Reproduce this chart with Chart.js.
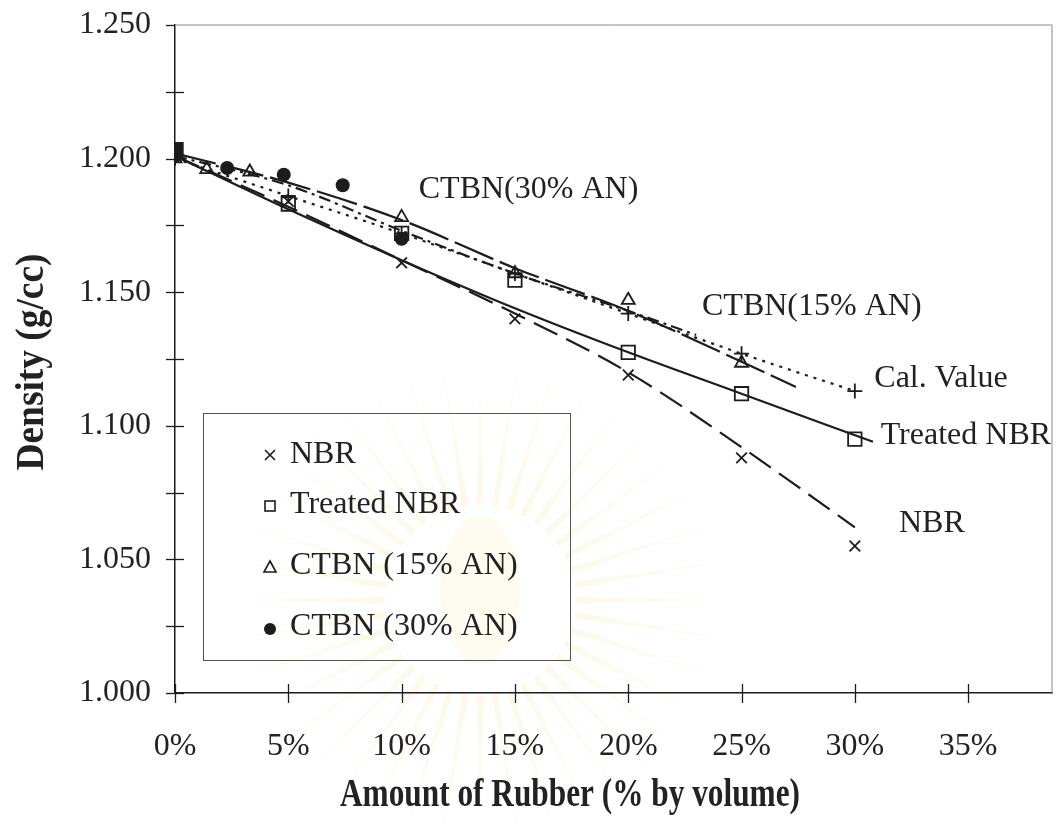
<!DOCTYPE html>
<html>
<head>
<meta charset="utf-8">
<script src="https://cdn.jsdelivr.net/npm/chart.js@4.4.1/dist/chart.umd.min.js"></script>
<style>
  html, body { margin: 0; padding: 0; background: #fff; }
  #wrap { width: 1057px; height: 831px; position: relative; }
</style>
</head>
<body>
<div id="wrap"><canvas id="densityChart" width="1057" height="831"></canvas></div>
<script>
// measured densities (g/cc) vs rubber content (% by volume)
const nbrX = [0, 5, 10, 15, 20, 25, 30];
const nbrDensity = [1.203, 1.184, 1.161, 1.140, 1.119, 1.088, 1.055];

const treatedX = [0, 5, 10, 15, 20, 25, 30];
const treatedDensity = [1.203, 1.183, 1.172, 1.1545, 1.1275, 1.112, 1.095];

const ctbn15X = [0, 1.4, 3.3, 10, 15, 20, 25];
const ctbn15Density = [1.200, 1.196, 1.195, 1.178, 1.157, 1.147, 1.1235];

const ctbn30X = [0, 2.3, 4.8, 7.4, 10];
const ctbn30Density = [1.201, 1.1965, 1.194, 1.190, 1.170];

const calX = [0, 5, 10, 15, 20, 25, 30];
const calDensity = [1.200, 1.186, 1.172, 1.157, 1.142, 1.127, 1.113];

// fitted trend curves
const nbrFitX = [0, 5, 10, 15, 20, 25, 30];
const nbrFitY = [1.201, 1.182, 1.162, 1.142, 1.120, 1.092, 1.062];

const treatedFitX = [0, 5, 10, 15, 20, 25, 30.8];
const treatedFitY = [1.201, 1.181, 1.162, 1.144, 1.1275, 1.112, 1.094];

const ctbn15FitX = [0, 5, 10, 15, 20, 25, 27.4];
const ctbn15FitY = [1.202, 1.191, 1.177, 1.159, 1.143, 1.124, 1.1145];

const ctbn30FitX = [0, 5, 10, 15, 20, 23];
const ctbn30FitY = [1.201, 1.190, 1.173, 1.157, 1.143, 1.134];

const yTicks = [1.000, 1.050, 1.100, 1.150, 1.200, 1.250];
const xTicks = [0, 5, 10, 15, 20, 25, 30, 35];

const xTitle = "Amount of Rubber (% by volume)";
const yTitle = "Density (g/cc)";

// curve names written next to the lines (data coords)
const curveLabels = [
  { text: "CTBN(30% AN)", x: 15.6, y: 1.1885 },
  { text: "CTBN(15% AN)", x: 28.1, y: 1.1445 },
  { text: "Cal. Value", x: 33.8, y: 1.1175 },
  { text: "Treated NBR", x: 34.9, y: 1.0965 },
  { text: "NBR", x: 33.4, y: 1.0635 }
];

const legendItems = [
  { text: "NBR", marker: "cross" },
  { text: "Treated NBR", marker: "square" },
  { text: "CTBN (15% AN)", marker: "triangle" },
  { text: "CTBN (30% AN)", marker: "dot" }
];

const INK = "#1c1c1c";
const SERIF = "'Liberation Serif', 'DejaVu Serif', serif";

const pts = (xs, ys) => xs.map((x, i) => ({ x, y: ys[i] }));

function fitLine(xs, ys, dash) {
  return {
    type: "line",
    data: pts(xs, ys),
    borderColor: INK,
    borderWidth: 2.2,
    borderDash: dash,
    pointRadius: 0,
    fill: false,
    cubicInterpolationMode: "monotone"
  };
}

function markers(xs, ys, style, radius, fillFirst) {
  return {
    type: "scatter",
    data: pts(xs, ys),
    pointStyle: style,
    pointRadius: ctx => (fillFirst && ctx.dataIndex === 0) ? radius + 1.5 : radius,
    pointBorderWidth: 1.8,
    pointBorderColor: INK,
    pointBackgroundColor: ctx => (fillFirst && ctx.dataIndex === 0) ? INK : "rgba(0,0,0,0)",
    showLine: false
  };
}

// bold title squeezed to a given length (the printed titles are narrow)
function condensedText(ctx, text, cx, cy, size, length, angle) {
  ctx.save();
  ctx.font = "bold " + size + "px " + SERIF;
  ctx.textAlign = "center";
  ctx.textBaseline = "middle";
  const w = ctx.measureText(text).width;
  ctx.translate(cx, cy);
  ctx.rotate(angle);
  ctx.scale(length / w, 1);
  ctx.fillStyle = "#222";
  ctx.fillText(text, 0, 0);
  ctx.restore();
}

// faint printed seal behind the plot
const seal = {
  id: "seal",
  beforeDraw(chart) {
    const { ctx } = chart;
    const cx = 480, cy = 600;
    ctx.save();
    const g = ctx.createRadialGradient(cx, cy, 40, cx, cy, 290);
    g.addColorStop(0, "rgba(248,226,150,0.28)");
    g.addColorStop(1, "rgba(248,226,150,0)");
    ctx.fillStyle = g;
    for (let i = 0; i < 40; i++) {
      const t = (i / 40) * Math.PI * 2;
      ctx.beginPath();
      ctx.moveTo(cx + Math.cos(t - 0.035) * 95, cy + Math.sin(t - 0.035) * 95);
      ctx.lineTo(cx + Math.cos(t) * 280, cy + Math.sin(t) * 280);
      ctx.lineTo(cx + Math.cos(t + 0.035) * 95, cy + Math.sin(t + 0.035) * 95);
      ctx.closePath();
      ctx.fill();
    }
    ctx.fillStyle = "rgba(246,228,170,0.16)";
    ctx.beginPath();
    ctx.ellipse(cx, cy - 10, 40, 75, 0, 0, Math.PI * 2);
    ctx.fill();
    ctx.restore();
  }
};

// axis ticks crossing the axis lines, frame, titles, curve labels and the boxed key
const decorations = {
  id: "decorations",
  afterDraw(chart) {
    const { ctx, chartArea: a, scales: { x, y } } = chart;
    ctx.save();

    // light frame on top and right
    ctx.strokeStyle = "#8a8a8a";
    ctx.lineWidth = 1;
    ctx.beginPath();
    ctx.moveTo(a.left, a.top);
    ctx.lineTo(a.right, a.top);
    ctx.lineTo(a.right, a.bottom);
    ctx.stroke();

    ctx.strokeStyle = INK;
    ctx.lineWidth = 1.3;
    for (let v = 1.0; v <= 1.2501; v += 0.025) {
      const py = Math.round(y.getPixelForValue(v)) + 0.5;
      ctx.beginPath();
      ctx.moveTo(a.left - 9, py);
      ctx.lineTo(v > 1.249 ? a.left : a.left + 9, py);
      ctx.stroke();
    }
    xTicks.forEach(v => {
      const px = Math.round(x.getPixelForValue(v)) + 0.5;
      ctx.beginPath();
      ctx.moveTo(px, a.bottom - 9);
      ctx.lineTo(px, a.bottom + 10);
      ctx.stroke();
    });

    condensedText(ctx, xTitle, 570, 796, 40, 460, 0);
    condensedText(ctx, yTitle, 33, 362, 40, 217, -Math.PI / 2);

    ctx.fillStyle = "#222";
    ctx.font = "32px " + SERIF;
    ctx.textAlign = "center";
    ctx.textBaseline = "middle";
    curveLabels.forEach(l => {
      ctx.fillText(l.text, x.getPixelForValue(l.x), y.getPixelForValue(l.y));
    });

    // key box
    const bx = 203, by = 413, bw = 367, bh = 247;
    ctx.strokeStyle = "#555";
    ctx.lineWidth = 1;
    ctx.strokeRect(bx + 0.5, by + 0.5, bw, bh);
    const rowY = [455, 505, 566, 627];
    ctx.textAlign = "left";
    ctx.strokeStyle = INK;
    ctx.lineWidth = 1.6;
    legendItems.forEach((it, i) => {
      const cy = rowY[i], cx = 270;
      ctx.beginPath();
      if (it.marker === "cross") {
        ctx.moveTo(cx - 5, cy - 5); ctx.lineTo(cx + 5, cy + 5);
        ctx.moveTo(cx + 5, cy - 5); ctx.lineTo(cx - 5, cy + 5);
        ctx.stroke();
      } else if (it.marker === "square") {
        ctx.strokeRect(cx - 5, cy - 4, 10, 10);
      } else if (it.marker === "triangle") {
        ctx.moveTo(cx, cy - 5); ctx.lineTo(cx + 6, cy + 6); ctx.lineTo(cx - 6, cy + 6);
        ctx.closePath();
        ctx.stroke();
      } else {
        ctx.fillStyle = INK;
        ctx.arc(cx, cy + 2, 6, 0, Math.PI * 2);
        ctx.fill();
      }
      ctx.fillStyle = "#222";
      ctx.fillText(it.text, 290, cy);
    });
    ctx.restore();
  }
};

new Chart(document.getElementById("densityChart"), {
  type: "scatter",
  data: {
    datasets: [
      fitLine(ctbn15FitX, ctbn15FitY, [42, 7]),
      fitLine(ctbn30FitX, ctbn30FitY, [12, 5, 3, 5]),
      fitLine(calX, calDensity, [3, 6]),
      fitLine(treatedFitX, treatedFitY, []),
      fitLine(nbrFitX, nbrFitY, [26, 10]),
      markers(nbrX, nbrDensity, "crossRot", 7.5, false),
      markers(treatedX, treatedDensity, "rect", 9.5, true),
      markers(ctbn15X, ctbn15Density, "triangle", 7.5, false),
      markers(calX, calDensity, "cross", 7.5, false),
      {
        type: "scatter",
        data: pts(ctbn30X, ctbn30Density),
        pointStyle: "circle",
        pointRadius: 7,
        pointBorderWidth: 0,
        pointBackgroundColor: INK
      }
    ]
  },
  options: {
    responsive: false,
    animation: false,
    layout: { autoPadding: false, padding: { top: 25, right: 5, left: 12, bottom: 0 } },
    plugins: { legend: { display: false }, tooltip: { enabled: false } },
    scales: {
      x: {
        type: "linear",
        min: 0,
        max: 38.7,
        afterFit: s => { s.height = 138; s.paddingLeft = 0; s.paddingRight = 0; },
        afterBuildTicks: s => { s.ticks = xTicks.map(v => ({ value: v })); },
        grid: { display: false, drawTicks: false },
        border: { display: true, color: INK, width: 1.5 },
        ticks: {
          padding: 34,
          color: "#222",
          font: { family: SERIF, size: 32 },
          callback: v => v + "%"
        }
      },
      y: {
        type: "linear",
        min: 1.0,
        max: 1.25,
        afterFit: s => { s.width = 163; s.paddingTop = 0; s.paddingBottom = 0; },
        afterBuildTicks: s => { s.ticks = yTicks.map(v => ({ value: v })); },
        grid: { display: false, drawTicks: false },
        border: { display: true, color: INK, width: 1.5 },
        ticks: {
          padding: 24,
          color: "#222",
          font: { family: SERIF, size: 32 },
          callback: v => v.toFixed(3)
        }
      }
    }
  },
  plugins: [seal, decorations]
});
</script>
</body>
</html>
